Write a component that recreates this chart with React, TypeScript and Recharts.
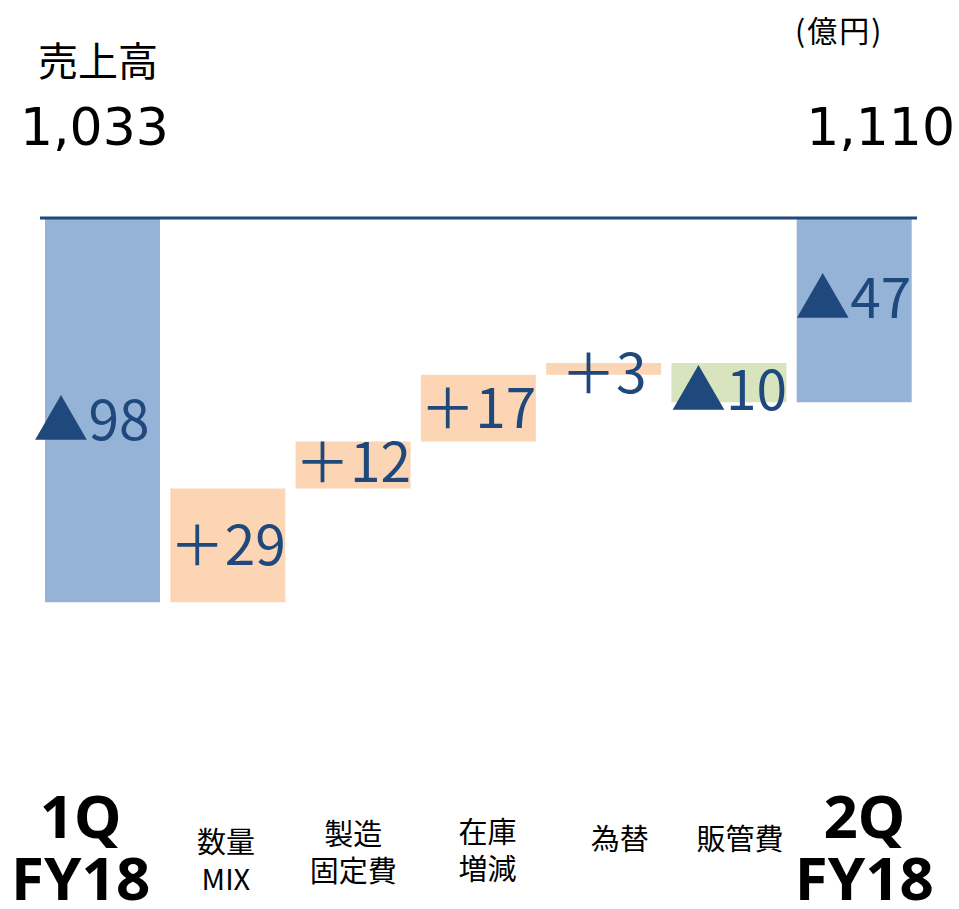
import { BarChart, Bar, XAxis, YAxis, Cell, LabelList, ReferenceLine } from 'recharts';

// categories (line break = second line of the axis label)
const categories = ['1Q\nFY18', '数量\nMIX', '製造\n固定費', '在庫\n増減', '為替', '販管費', '2Q\nFY18'];
// drop of 1Q below the top line, the steps, and the end drop of 2Q
const startDrop = 98;
const changes = [29, 12, 17, 3, -10];
const endDrop = 47;
const valueLabels = ['▲98', '＋29', '＋12', '＋17', '＋3', '▲10', '▲47'];
const kinds = ['total', 'up', 'up', 'up', 'up', 'down', 'total'];

const COLORS: Record<string, string> = { total: '#95B3D7', up: '#FCD5B5', down: '#D7E4BD' };
const TEXT_BLUE = '#1F497D';
const W = 959;
const H = 909;

// build waterfall rows (depth measured downward from the top line)
const rows: { name: string; base: number; size: number }[] = [];
rows.push({ name: categories[0], base: 0, size: startDrop });
let depth = startDrop;
changes.forEach((c, i) => {
  const next = depth - c;
  rows.push({ name: categories[i + 1], base: Math.min(depth, next), size: Math.abs(c) });
  depth = next;
});
rows.push({ name: categories[categories.length - 1], base: 0, size: endDrop });

// label placement tweaks
const tickDx = [-22, -2, 0, 9, 16, 11, 10];
const tickY: number[][] = [[838, 900], [853, 890], [845, 882], [843, 880], [850], [850], [838, 900]];
const labelDx = [-11, 0, 0, 0, 0, 0, -1];
const labelDy = [10, 0, -3, 0, 4, 7, -12];

function CategoryTick(props: any) {
  const { x, payload, index } = props;
  const lines = String(payload.value).split('\n');
  const big = index === 0 || index === categories.length - 1;
  return (
    <g>
      {lines.map((ln, i) => (
        <text
          key={i}
          x={x + tickDx[index]}
          y={tickY[index][i]}
          textAnchor="middle"
          fill="#000"
          fontSize={big ? 60 : 29}
          fontWeight={big ? 700 : 400}
          fontFamily={big ? "'Noto Sans', sans-serif" : "'Noto Sans CJK JP', sans-serif"}
        >
          {ln}
        </text>
      ))}
    </g>
  );
}

function ValueLabel(props: any) {
  const { x, y, width, height, index } = props;
  return (
    <text
      x={x + width / 2 + labelDx[index]}
      y={y + height / 2 + labelDy[index]}
      dy="0.36em"
      textAnchor="middle"
      fill={TEXT_BLUE}
      fontSize={55}
      fontFamily="'Noto Sans CJK JP', sans-serif"
    >
      {valueLabels[index]}
    </text>
  );
}

export default function App() {
  return (
    <div style={{ position: 'absolute', left: 0, top: 0, width: W, height: H, background: '#fff' }}>
      <BarChart
        width={W}
        height={H}
        data={rows}
        margin={{ top: 218, right: 42, left: 40, bottom: 0 }}
        barSize={115}
      >
        <YAxis hide reversed domain={[0, 140]} />
        <XAxis
          dataKey="name"
          interval={0}
          axisLine={false}
          tickLine={false}
          height={142}
          tick={<CategoryTick />}
        />
        <Bar dataKey="base" stackId="w" fill="transparent" isAnimationActive={false} />
        <Bar dataKey="size" stackId="w" isAnimationActive={false}>
          {rows.map((_, i) => (
            <Cell key={i} fill={COLORS[kinds[i]]} />
          ))}
          <LabelList dataKey="size" content={<ValueLabel />} />
        </Bar>
        <ReferenceLine y={0} stroke={TEXT_BLUE} strokeWidth={3} />
      </BarChart>
      <svg width={W} height={H} style={{ position: 'absolute', left: 0, top: 0, pointerEvents: 'none' }}>
        <text x={38} y={76} fontSize={40} fontFamily="'Noto Sans CJK JP', sans-serif" fill="#000">売上高</text>
        <text x={20} y={145} fontSize={52} fontFamily="'DejaVu Sans', sans-serif" fill="#000">1,033</text>
        <text x={795} y={42} fontSize={30} letterSpacing={2} fontFamily="'Noto Sans CJK JP', sans-serif" fill="#000">(億円)</text>
        <text x={955} y={145} textAnchor="end" fontSize={52} fontFamily="'DejaVu Sans', sans-serif" fill="#000">1,110</text>
      </svg>
    </div>
  );
}
